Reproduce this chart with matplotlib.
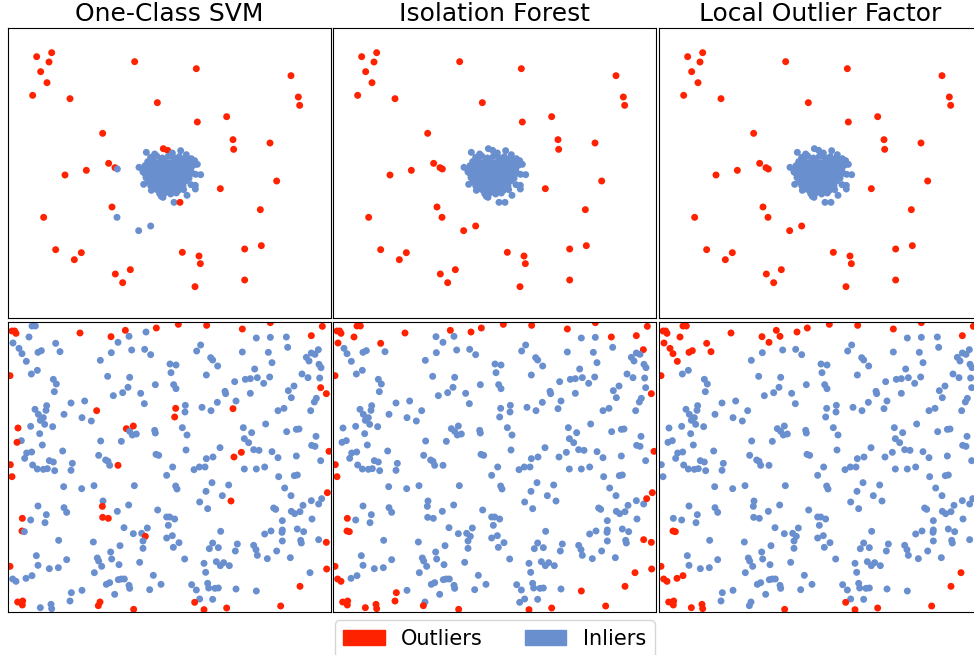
import numpy as np
import matplotlib
matplotlib.use('Agg')
import matplotlib.pyplot as plt
from matplotlib.patches import Patch

titles = ['One-Class SVM', 'Isolation Forest', 'Local Outlier Factor']
red = '#ff2200'
blue = '#6a8fcf'

# --- top row: one dense blob plus scattered points (same points in all 3 panels)
top_far = [
    (86, 86), (131, 74), (123, 102), (98, 131), (117, 164), (74, 202), (186, 212),
    (380, 101), (565, 122), (849, 143), (871, 207), (875, 232), (448, 224),
    (656, 266), (568, 282), (284, 316), (675, 335), (677, 364), (786, 345),
    (302, 406), (321, 419), (328, 423), (235, 427), (171, 441), (806, 459),
    (637, 482), (312, 537), (757, 545), (107, 568), (327, 568), (392, 608),
    (428, 594), (143, 665), (220, 674), (199, 695), (523, 673), (573, 684),
    (577, 707), (710, 663), (760, 653), (367, 725), (322, 738), (344, 764),
    (561, 776), (710, 756),
]
top_blob = [
    (415, 373), (440, 378), (466, 362), (479, 367), (493, 375), (518, 368), (535, 380),
    (550, 392), (560, 398), (568, 409), (393, 418), (405, 432), (407, 469), (430, 487),
    (440, 480), (460, 505), (465, 508), (498, 523), (516, 523), (537, 502), (549, 470),
    (562, 472), (562, 483), (563, 439), (578, 440), (545, 430),
    (428, 388), (446, 384), (463, 390), (481, 385), (498, 389), (514, 386), (531, 391), (545, 396),
    (419, 401), (436, 398), (453, 403), (470, 399), (487, 404), (504, 398), (520, 402),
    (537, 399), (552, 405),
    (411, 413), (427, 410), (444, 415), (461, 411), (477, 414), (493, 409), (509, 413),
    (525, 411), (541, 415), (556, 412),
    (404, 425), (419, 422), (436, 426), (452, 423), (468, 427), (484, 422), (500, 426),
    (516, 423), (532, 427), (548, 424),
    (411, 437), (426, 434), (442, 438), (458, 435), (474, 439), (490, 434), (506, 438),
    (522, 435), (538, 439), (553, 436),
    (414, 449), (431, 446), (447, 450), (463, 447), (480, 451), (496, 446), (512, 450),
    (528, 447), (543, 451),
    (421, 461), (437, 458), (453, 462), (469, 459), (485, 463), (501, 458), (517, 462), (533, 459),
    (428, 473), (445, 470), (461, 474), (477, 471), (493, 475), (509, 470), (525, 474),
    (447, 485), (463, 482), (479, 486), (495, 483), (511, 487), (527, 485),
    (455, 497), (472, 494), (488, 498), (505, 495),
]
svm_top_out = [p for p in top_far if p not in [(328, 423), (327, 568), (392, 608), (428, 594)]]
svm_top_out += [(466, 362), (479, 367), (516, 523)]
iforest_top_out = top_far
lof_top_out = top_far

# --- bottom row: uniform points (same points in all 3 panels)
bottom_pts = [
    (12, 27), (20, 27), (24, 34), (72, 12), (82, 12), (63, 45), (15, 63), (216, 33), (352, 25),
    (414, 30), (445, 18), (511, 7), (596, 10), (703, 21), (787, 2), (835, 45), (910, 41),
    (943, 13), (931, 83), (143, 64), (309, 44), (363, 43), (330, 61), (745, 48), (787, 46),
    (33, 79), (42, 95), (90, 91), (100, 86), (156, 89), (55, 118),
    (310, 92), (371, 84), (410, 82), (428, 98), (277, 115),
    (566, 87), (578, 69), (703, 90), (781, 91), (792, 122), (839, 76),
    (608, 107), (614, 114), (629, 132), (486, 126), (504, 129),
    (895, 106), (903, 117), (910, 93), (921, 97), (933, 127), (939, 137),
    (70, 156), (88, 145), (136, 172), (145, 186), (139, 209),
    (299, 163), (365, 166), (360, 196), (344, 212), (316, 221),
    (442, 188), (489, 152), (497, 188), (504, 200),
    (595, 159), (680, 179), (712, 172), (727, 170), (748, 167), (767, 184), (785, 165),
    (740, 141), (882, 156), (900, 167), (935, 168), (938, 197), (858, 192), (841, 206), (850, 227),
    (6, 161), (955, 215),
    (398, 214), (409, 245), (230, 237), (189, 243), (116, 251), (114, 265), (81, 262), (91, 277),
    (106, 287), (97, 295), (110, 307), (68, 313), (30, 318), (134, 314), (168, 277), (222, 287),
    (250, 297), (266, 266),
    (532, 250), (503, 259), (531, 270), (500, 285), (582, 256), (609, 266), (628, 241),
    (651, 208), (653, 215), (684, 237), (675, 260), (727, 214),
    (810, 266), (828, 259), (908, 266), (919, 240), (925, 229),
    (773, 306), (706, 317), (731, 332), (865, 322), (873, 321), (836, 329), (924, 343),
    (95, 335), (40, 356), (27, 361), (103, 369), (56, 393), (71, 390), (50, 409), (164, 387),
    (355, 320), (365, 328), (376, 312), (373, 339), (385, 336), (340, 358), (278, 357),
    (440, 325), (442, 333),
    (523, 317), (537, 339), (534, 384), (636, 377),
    (709, 350), (722, 362), (737, 383), (753, 385), (700, 391), (678, 405), (615, 405), (595, 410),
    (792, 389), (810, 407), (865, 402), (911, 370), (921, 373), (963, 388),
    (272, 400), (293, 414), (300, 418), (305, 430), (330, 430), (444, 397), (452, 400),
    (7, 428), (12, 464),
    (74, 429), (88, 441), (106, 442), (118, 440), (124, 416), (136, 420), (140, 446),
    (193, 424), (189, 445),
    (494, 435), (476, 460), (558, 443), (574, 435), (591, 435),
    (709, 441), (745, 441), (770, 435), (812, 464), (859, 461), (868, 459), (938, 416),
    (167, 494), (221, 500), (258, 491), (379, 491), (503, 492), (507, 501),
    (612, 482), (594, 508), (662, 489), (643, 521), (669, 537),
    (830, 498), (849, 521), (885, 550), (910, 536), (932, 546), (941, 530), (958, 512),
    (575, 540), (599, 560),
    (797, 558), (803, 562), (850, 568), (860, 575), (876, 569), (823, 596), (912, 591),
    (90, 552), (115, 578), (111, 602), (68, 594), (168, 557), (176, 571),
    (43, 589), (42, 627), (49, 629),
    (285, 537), (283, 553), (328, 568), (362, 549), (284, 586), (301, 589),
    (449, 564), (476, 585), (485, 585), (500, 591), (481, 610),
    (348, 617), (376, 635), (401, 634), (418, 618), (412, 643), (405, 657), (405, 679),
    (476, 648), (493, 641), (513, 662), (496, 676),
    (638, 628), (614, 663), (631, 677), (604, 680), (688, 666), (682, 687),
    (770, 636), (789, 627), (823, 624), (822, 631), (823, 657), (868, 621), (887, 629),
    (878, 655), (880, 663),
    (737, 670), (744, 683), (748, 700), (806, 687), (778, 710), (847, 707),
    (932, 653), (955, 661),
    (152, 655), (256, 660), (336, 671), (308, 690), (268, 708), (272, 717), (281, 733),
    (311, 711), (333, 728), (85, 701), (90, 730), (176, 713), (124, 740), (151, 737),
    (395, 721), (530, 711),
    (588, 724), (593, 751), (625, 719), (637, 731), (647, 722), (664, 731),
    (6, 733), (14, 771), (24, 778), (956, 741), (906, 752), (876, 793), (54, 769), (72, 761),
    (259, 752), (295, 787), (305, 782), (331, 773), (340, 771), (349, 771), (363, 790),
    (365, 799), (320, 817), (222, 805),
    (436, 760), (459, 787), (425, 803),
    (551, 788), (565, 804), (599, 784), (602, 798), (621, 799), (631, 798), (684, 801),
    (614, 832), (575, 831), (560, 841),
    (745, 807), (276, 840), (190, 812), (186, 837), (271, 851),
    (29, 840), (44, 837), (43, 849), (97, 857), (129, 847), (131, 860),
    (377, 862), (588, 863), (656, 858), (818, 852),
]
svm_bottom_out = [
    (12, 27), (20, 27), (24, 34), (216, 33), (309, 44), (352, 25), (445, 18), (6, 161),
    (266, 266), (30, 318), (27, 361), (355, 320), (376, 312), (7, 428), (330, 430),
    (511, 7), (596, 10), (703, 21), (787, 2), (943, 13), (910, 41), (938, 197), (955, 215),
    (503, 259), (500, 285), (675, 260), (700, 391), (678, 405), (963, 388), (12, 464),
    (43, 589), (42, 627), (283, 553), (284, 586), (301, 589), (412, 643), (6, 733),
    (29, 840), (44, 837), (43, 849), (276, 840), (271, 851), (377, 862), (669, 537),
    (958, 512), (955, 661), (956, 741), (876, 793), (818, 852), (560, 841), (588, 863),
    (656, 858),
]
iforest_bottom_out = [
    (12, 27), (20, 27), (24, 34), (72, 12), (82, 12), (63, 45), (15, 63), (143, 64),
    (216, 33), (352, 25), (414, 30), (445, 18), (511, 7), (596, 10), (703, 21), (787, 2),
    (835, 45), (910, 41), (943, 13), (931, 83), (6, 161), (955, 215), (963, 388), (7, 428),
    (12, 464), (958, 512), (941, 530), (43, 589), (42, 627), (49, 629), (932, 653),
    (955, 661), (6, 733), (14, 771), (24, 778), (956, 741), (906, 752), (876, 793),
    (745, 807), (190, 812), (186, 837), (271, 851), (29, 840), (44, 837), (43, 849),
    (97, 857), (129, 847), (131, 860), (377, 862), (588, 863), (656, 858), (818, 852),
]
lof_bottom_out = [
    (12, 27), (20, 27), (24, 34), (72, 12), (82, 12), (63, 45), (15, 63), (143, 64),
    (33, 79), (42, 95), (90, 91), (100, 86), (156, 89), (55, 118), (216, 33), (309, 44),
    (363, 43), (330, 61), (352, 25), (414, 30), (445, 18), (511, 7), (596, 10), (703, 21),
    (787, 2), (910, 41), (943, 13), (6, 161), (42, 627), (49, 629), (6, 733), (14, 771),
    (24, 778), (54, 769), (72, 761), (29, 840), (44, 837), (43, 849), (97, 857),
    (129, 847), (131, 860), (377, 862), (560, 841), (588, 863), (656, 858), (818, 852),
    (876, 793), (906, 752),
]


def mark_outliers(points, outliers):
    """flag the point nearest to each listed outlier"""
    mask = np.zeros(len(points), dtype=bool)
    for p in outliers:
        d = ((points - np.array(p)) ** 2).sum(axis=1)
        mask[np.argmin(d)] = True
    return mask


top = np.array(top_far + top_blob, dtype=float)
bottom = np.array(bottom_pts, dtype=float)

rows = [
    (top, [svm_top_out, iforest_top_out, lof_top_out]),
    (bottom, [svm_bottom_out, iforest_bottom_out, lof_bottom_out]),
]

fig = plt.figure(figsize=(9.74, 6.55), dpi=100)
W, H = 974.0, 655.0
lefts = [8, 333, 659]
tops = [28, 322]

for r, (pts, outs) in enumerate(rows):
    for c in range(3):
        ax = fig.add_axes([lefts[c] / W, 1 - (tops[r] + 290) / H, 323 / W, 290 / H])
        mask = mark_outliers(pts, outs[c])
        colors = np.where(mask, red, blue)
        ax.scatter(pts[:, 0], pts[:, 1], s=25, c=colors, edgecolors='none')
        ax.set_xlim(0, 969)
        ax.set_ylim(870, 0)
        ax.set_xticks([])
        ax.set_yticks([])
        if r == 0:
            ax.set_title(titles[c], fontsize=18, pad=5)

handles = [Patch(color=red, label='Outliers'), Patch(color=blue, label='Inliers')]
fig.legend(handles=handles, loc='upper center', bbox_to_anchor=(494.5 / W, 1 - 610 / H),
           ncol=2, fontsize=15)

fig.savefig('out.png', dpi=100)
